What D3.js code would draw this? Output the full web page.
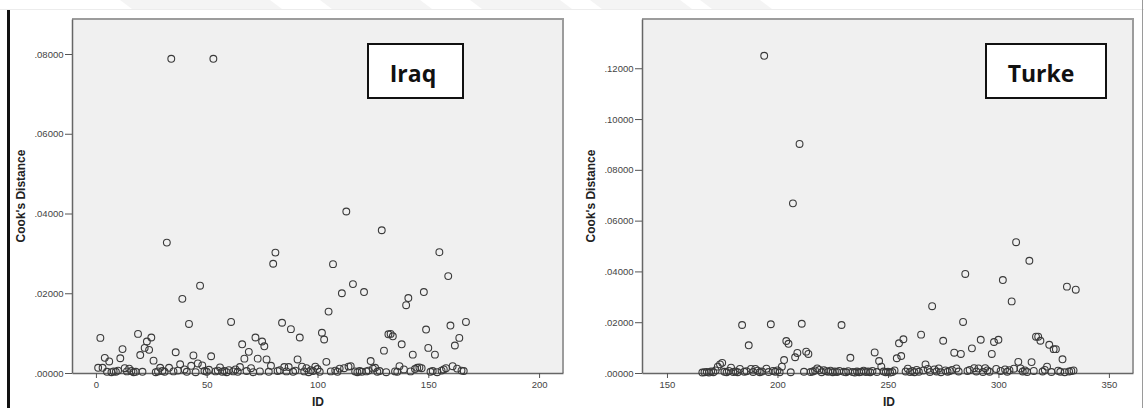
<!DOCTYPE html>
<html lang="en">
<head>
    <meta charset="UTF-8">
    <script src="https://d3js.org/d3.v7.min.js"></script>
    <title>Cook's Distance - Iraq / Turke</title>
    <style>
      body { margin: 0; background: #ffffff; }
      .tick text { font-family: "Liberation Sans", Arial, sans-serif; font-size: 9.5px; fill: #444; }
      .tick line { stroke: #555; }
      .axis-title { font-family: "Liberation Sans", Arial, sans-serif; font-size: 12px; font-weight: bold; fill: #222; }
      .box-label { font-family: "Open Sans", sans-serif; font-size: 23px; font-weight: bold; fill: #111; }
    </style>
</head>
<body>
    <div id="chart"></div>
<script>

// ---- data ----
// Iraq: ID starts at 1, one value per ID
var iraqStartId = 1;
var iraqValues = [
  0.0013, 0.0088, 0.0013, 0.0038, 0.0003, 0.0029, 0.0002, 0.0004, 0.0003, 0.0006,
  0.0037, 0.0060, 0.0012, 0.0004, 0.0011, 0.0005, 0.0002, 0.0003, 0.0098, 0.0045,
  0.0003, 0.0063, 0.0079, 0.0058, 0.0089, 0.0031, 0.0002, 0.0004, 0.0013, 0.0005,
  0.0003, 0.0327, 0.0013, 0.0788, 0.0004, 0.0052, 0.0006, 0.0022, 0.0186, 0.0009,
  0.0003, 0.0123, 0.0018, 0.0044, 0.0002, 0.0024, 0.0219, 0.0019, 0.0005, 0.0003,
  0.0008, 0.0042, 0.0788, 0.0004, 0.0006, 0.0014, 0.0003, 0.0005, 0.0002, 0.0007,
  0.0128, 0.0004, 0.0009, 0.0003, 0.0015, 0.0072, 0.0036, 0.0005, 0.0053, 0.0012,
  0.0002, 0.0089, 0.0036, 0.0004, 0.0079, 0.0067, 0.0034, 0.0003, 0.0018, 0.0274,
  0.0302, 0.0005, 0.0007, 0.0126, 0.0015, 0.0004, 0.0015, 0.0110, 0.0003, 0.0006,
  0.0034, 0.0089, 0.0016, 0.0004, 0.0012, 0.0002, 0.0007, 0.0005, 0.0016, 0.0010,
  0.0003, 0.0101, 0.0084, 0.0028, 0.0154, 0.0004, 0.0273, 0.0006, 0.0003, 0.0011,
  0.0200, 0.0012, 0.0405, 0.0016, 0.0017, 0.0223, 0.0004, 0.0002, 0.0005, 0.0003,
  0.0203, 0.0004, 0.0006, 0.0030, 0.0011, 0.0013, 0.0003, 0.0005, 0.0358, 0.0056,
  0.0002, 0.0097, 0.0098, 0.0092, 0.0004, 0.0003, 0.0017, 0.0072, 0.0009, 0.0170,
  0.0188, 0.0004, 0.0046, 0.0010, 0.0013, 0.0014, 0.0012, 0.0203, 0.0109, 0.0063,
  0.0003, 0.0005, 0.0046, 0.0002, 0.0303, 0.0006, 0.0009, 0.0012, 0.0243, 0.0119,
  0.0017, 0.0069, 0.0011, 0.0088, 0.0006, 0.0005, 0.0128
];

// Turke: ID starts at 166
var turkeStartId = 166;
var turkeValues = [
  0.0002, 0.0003, 0.0004, 0.0002, 0.0006, 0.0003, 0.0010, 0.0025, 0.0034, 0.0040,
  0.0005, 0.0003, 0.0008, 0.0021, 0.0004, 0.0006, 0.0003, 0.0016, 0.0189, 0.0005,
  0.0007, 0.0109, 0.0016, 0.0004, 0.0016, 0.0009, 0.0003, 0.0006, 0.1249, 0.0017,
  0.0004, 0.0192, 0.0008, 0.0005, 0.0010, 0.0003, 0.0025, 0.0051, 0.0126, 0.0115,
  0.0003, 0.0668, 0.0062, 0.0079, 0.0902, 0.0194, 0.0005, 0.0084, 0.0075, 0.0004,
  0.0006, 0.0010, 0.0018, 0.0012, 0.0003, 0.0011, 0.0007, 0.0005, 0.0009, 0.0003,
  0.0006, 0.0004, 0.0008, 0.0189, 0.0005, 0.0003, 0.0007, 0.0060, 0.0004, 0.0002,
  0.0006, 0.0003, 0.0005, 0.0009, 0.0004, 0.0006, 0.0003, 0.0008, 0.0081, 0.0004,
  0.0047, 0.0025, 0.0006, 0.0003, 0.0005, 0.0002, 0.0004, 0.0010, 0.0058, 0.0117,
  0.0067, 0.0133, 0.0006, 0.0017, 0.0004, 0.0008, 0.0003, 0.0012, 0.0005, 0.0151,
  0.0010, 0.0034, 0.0016, 0.0004, 0.0263, 0.0014, 0.0006, 0.0018, 0.0003, 0.0127,
  0.0010, 0.0005, 0.0008, 0.0012, 0.0080, 0.0018, 0.0006, 0.0075, 0.0201, 0.0390,
  0.0008, 0.0012, 0.0097, 0.0019, 0.0006, 0.0018, 0.0131, 0.0004, 0.0019, 0.0010,
  0.0005, 0.0075, 0.0122, 0.0016, 0.0131, 0.0008, 0.0366, 0.0014, 0.0005, 0.0011,
  0.0282, 0.0017, 0.0515, 0.0044, 0.0018, 0.0006, 0.0010, 0.0004, 0.0442, 0.0043,
  0.0008, 0.0143, 0.0143, 0.0127, 0.0006, 0.0012, 0.0025, 0.0111, 0.0004, 0.0094,
  0.0094, 0.0009, 0.0005, 0.0054, 0.0003, 0.0340, 0.0006, 0.0008, 0.0010, 0.0328
];

// tick labels
var iraqXTicks = [0, 50, 100, 150, 200];
var iraqYTicks = [0, 0.02, 0.04, 0.06, 0.08];
var turkeXTicks = [150, 200, 250, 300, 350];
var turkeYTicks = [0, 0.02, 0.04, 0.06, 0.08, 0.10, 0.12];

var xTitle = "ID";
var yTitle = "Cook's Distance";

// ---- page ----
var W = 1144, H = 408;
var svg = d3.select("#chart")
  .append("svg")
    .attr("width", W)
    .attr("height", H);

// faint banner at the top of the page
var banner = svg.append("g");
[[120, 270], [320, 420], [470, 560], [590, 680], [700, 760]].forEach(function(b) {
  banner.append("path")
    .attr("d", "M" + b[0] + ",0 L" + b[1] + ",0 L" + (b[1] + 12) + ",9 L" + (b[0] + 12) + ",9 Z")
    .attr("fill", "#f4f4f4");
});
svg.append("line")
  .attr("x1", 0).attr("x2", W).attr("y1", 9.5).attr("y2", 9.5)
  .attr("stroke", "#ececec").attr("stroke-width", 1);

// thick black rule on the left, thin grey on the right
svg.append("line")
  .attr("x1", 8.5).attr("x2", 8.5).attr("y1", 10).attr("y2", H)
  .attr("stroke", "#111").attr("stroke-width", 3);
svg.append("line")
  .attr("x1", 1142.5).attr("x2", 1142.5).attr("y1", 0).attr("y2", H)
  .attr("stroke", "#9a9a9a").attr("stroke-width", 1);

// format .08000 style (no leading zero)
var fmt = function(d) { return d3.format(".5f")(d).replace(/^0/, ""); };

function drawPanel(p) {
  var g = svg.append("g");

  var x = d3.scaleLinear().domain(p.xDomain).range([p.left, p.right]);
  var y = d3.scaleLinear().domain(p.yDomain).range([p.bottom, p.top]);

  // plot background + frame
  g.append("rect")
    .attr("x", p.left).attr("y", p.top)
    .attr("width", p.right - p.left).attr("height", p.bottom - p.top)
    .attr("fill", "#f0f0f0");
  g.append("path")
    .attr("d", "M" + p.left + "," + p.top + " H" + p.right + " V" + p.bottom)
    .attr("fill", "none")
    .attr("stroke", "#9c9c9c")
    .attr("stroke-width", 2);

  // axes
  var yAxis = g.append("g")
    .attr("transform", "translate(" + p.left + ",0)")
    .call(d3.axisLeft(y).tickValues(p.yTicks).tickFormat(fmt).tickSize(7).tickSizeOuter(0).tickPadding(1.5));
  var xAxis = g.append("g")
    .attr("transform", "translate(0," + p.bottom + ")")
    .call(d3.axisBottom(x).tickValues(p.xTicks).tickFormat(d3.format("d")).tickSize(5).tickSizeOuter(0).tickPadding(3));
  yAxis.select(".domain").attr("stroke", "#666").attr("stroke-width", 1.5);
  xAxis.select(".domain").attr("stroke", "#666").attr("stroke-width", 1.5);
  yAxis.selectAll(".tick text").style("font-family", "'Liberation Sans', Arial, sans-serif");
  xAxis.selectAll(".tick text").style("font-family", "'Liberation Sans', Arial, sans-serif");

  // points
  g.append("g")
    .selectAll("circle")
    .data(p.values)
    .enter()
    .append("circle")
      .attr("cx", function(d, i) { return x(p.startId + i); })
      .attr("cy", function(d) { return y(d); })
      .attr("r", 3.4)
      .attr("fill", "none")
      .attr("stroke", "#3a3a3a")
      .attr("stroke-width", 1.1);

  // axis titles
  g.append("text")
    .attr("class", "axis-title")
    .attr("transform", "translate(" + p.yTitleX + "," + p.yTitleY + ") rotate(-90)")
    .attr("text-anchor", "middle")
    .text(yTitle);
  g.append("text")
    .attr("class", "axis-title")
    .attr("x", p.xTitleX).attr("y", 406)
    .attr("text-anchor", "middle")
    .text(xTitle);

  // country label box
  g.append("rect")
    .attr("x", p.box[0]).attr("y", p.box[1])
    .attr("width", p.box[2]).attr("height", p.box[3])
    .attr("fill", "#ffffff")
    .attr("stroke", "#111")
    .attr("stroke-width", 2);
  g.append("text")
    .attr("class", "box-label")
    .attr("x", p.labelX).attr("y", 82)
    .attr("text-anchor", "middle")
    .text(p.label);
}

drawPanel({
  left: 72, right: 563, top: 19, bottom: 373,
  xDomain: [-10.8, 210.8], yDomain: [0, 0.08878],
  xTicks: iraqXTicks, yTicks: iraqYTicks,
  startId: iraqStartId, values: iraqValues,
  yTitleX: 25, yTitleY: 196, xTitleX: 318,
  box: [368, 44, 95, 54], label: "Iraq", labelX: 413
});

drawPanel({
  left: 642, right: 1133, top: 19, bottom: 373,
  xDomain: [138.7, 360.9], yDomain: [0, 0.1394],
  xTicks: turkeXTicks, yTicks: turkeYTicks,
  startId: turkeStartId, values: turkeValues,
  yTitleX: 595, yTitleY: 196, xTitleX: 889,
  box: [986, 44, 120, 54], label: "Turke", labelX: 1041
});

</script>
</body>
</html>
